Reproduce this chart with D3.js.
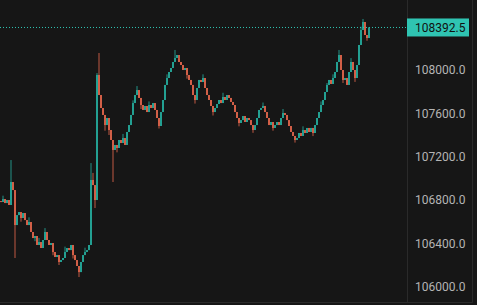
<!DOCTYPE html>
<html>
<head>
  <title>BTC candles</title>
  <style>
    body { margin: 0; background: #161616; }
    #chart { width: 477px; height: 305px; }
    text { font-family: Roboto, "Noto Sans", sans-serif; }
  </style>
  <script src="https://d3js.org/d3.v7.min.js"></script>
</head>
<body>
  <div id="chart"></div>
  <script>
    // close of each bar, open = previous close
    const firstOpen = 106790;
    const closes = [
      106781.5, 106809, 106772, 106800, 106754, 106966, 106892, 106569, 106661, 106689,
      106634, 106680, 106615, 106569, 106597, 106505, 106449, 106468, 106385, 106412,
      106357, 106431, 106505, 106431, 106385, 106403, 106320, 106274, 106292, 106228,
      106246, 106265, 106320, 106357, 106338, 106385, 106292, 106246, 106191, 106135,
      106228, 106292, 106320, 106338, 106385, 106985, 106938, 106800, 107954, 107769,
      107649, 107585, 107492, 107557, 107446, 107354, 107262, 107308, 107280, 107354,
      107326, 107372, 107308, 107428, 107492, 107585, 107695, 107769, 107815, 107742,
      107677, 107631, 107668, 107612, 107677, 107649, 107695, 107631, 107557, 107483,
      107612, 107723, 107862, 107926, 107981.5, 108018.5, 108074, 108111, 108138.5, 108074,
      108046, 108000, 108018.5, 107954, 107908, 107862, 107769, 107723, 107834, 107908,
      107889, 107926, 107834, 107769, 107723, 107668, 107612, 107649, 107686, 107723,
      107695, 107751, 107723, 107769, 107742, 107705, 107677, 107612, 107557, 107511,
      107538, 107575, 107520, 107557, 107538, 107492, 107446, 107492, 107557, 107631,
      107649, 107668, 107612, 107557, 107492, 107520, 107465, 107492, 107520, 107492,
      107557, 107603, 107585, 107538, 107483, 107428, 107391, 107354, 107372, 107418.5,
      107391, 107446, 107418.5, 107465, 107428, 107465, 107418.5, 107492, 107557, 107612,
      107677, 107723, 107797, 107862, 107908, 107871, 107926, 107981.5, 108074, 108138.5,
      108000, 107908, 107926, 107862, 107981.5, 108074, 108000, 107926, 108046, 108231,
      108369, 108443, 108323, 108295, 108392.5
    ];
    // bars whose wicks reach past the body: [index, high, low]
    const wicks = [
      [1, 106840, null], [5, 107169, null], [7, null, 106265], [10, null, 106600],
      [14, 106640, null], [17, null, 106420], [19, 106450, null], [22, 106541, null],
      [26, null, 106290], [29, null, 106200], [32, 106370, null], [36, null, 106260],
      [39, null, 106089], [42, 106360, null], [45, 107141, null], [46, 107050, null],
      [47, null, 106726], [48, 107972, null], [49, 108157, null], [52, null, 107440],
      [54, null, 107400], [56, null, 106966], [58, null, 107240], [61, 107410, null],
      [66, 107720, null], [68, 107852, null], [70, null, 107640], [74, 107710, null],
      [79, null, 107460], [83, 107960, null], [87, 108185, null], [89, 108100, null],
      [93, null, 107920], [97, null, 107690], [101, 107960, null], [106, null, 107580],
      [111, 107790, null], [119, null, 107480], [126, null, 107420], [131, 107700, null],
      [136, null, 107440], [141, 107640, null], [147, null, 107330], [151, 107480, null],
      [156, null, 107390], [160, 107710, null], [163, 107880, null], [166, 107960, null],
      [169, 108185, null], [171, null, 107880], [175, 108110, null], [177, null, 107890],
      [180, 108400, null], [181, 108471, null], [183, null, 108270]
    ];
    const priceTicks = [106000, 106400, 106800, 107200, 107600, 108000];
    const lastPrice = 108392.5;

    const upColor = "#26b3a3";
    const downColor = "#ec6a4f";

    const data = closes.map((c, i) => {
      const o = i === 0 ? firstOpen : closes[i - 1];
      return { i, o, c, h: Math.max(o, c), l: Math.min(o, c) };
    });
    wicks.forEach(([i, h, l]) => {
      if (h !== null) data[i].h = h;
      if (l !== null) data[i].l = l;
    });

    const W = 477, H = 305;
    const plotRight = 407, frameRight = 472.5, frameBottom = 302.5;

    const svg = d3.select("#chart").append("svg")
      .attr("width", W).attr("height", H);

    svg.append("rect").attr("width", W).attr("height", H).attr("fill", "#161616");

    const x = d3.scaleLinear().domain([0, 203]).range([1, plotRight]);
    const y = d3.scaleLinear().domain([106000, 108000]).range([286.7, 70]);

    // frame lines
    svg.append("line")
      .attr("x1", plotRight + 0.5).attr("x2", plotRight + 0.5)
      .attr("y1", 0).attr("y2", frameBottom)
      .attr("stroke", "#2a2a2a");
    svg.append("line")
      .attr("x1", frameRight).attr("x2", frameRight)
      .attr("y1", 0).attr("y2", frameBottom)
      .attr("stroke", "#2a2a2a");
    svg.append("line")
      .attr("x1", 0).attr("x2", frameRight)
      .attr("y1", frameBottom).attr("y2", frameBottom)
      .attr("stroke", "#2a2a2a");

    const bars = svg.append("g");
    bars.selectAll("line")
      .data(data)
      .join("line")
      .attr("x1", d => x(d.i)).attr("x2", d => x(d.i))
      .attr("y1", d => y(d.h)).attr("y2", d => y(d.l))
      .attr("stroke", d => d.c >= d.o ? upColor : downColor)
      .attr("stroke-width", 0.8);
    bars.selectAll("rect")
      .data(data)
      .join("rect")
      .attr("x", d => x(d.i) - 0.8)
      .attr("width", 1.6)
      .attr("y", d => y(Math.max(d.o, d.c)))
      .attr("height", d => Math.max(1, Math.abs(y(d.o) - y(d.c))))
      .attr("fill", d => d.c >= d.o ? upColor : downColor);

    // price axis
    const axis = svg.append("g")
      .attr("transform", `translate(${plotRight},0)`)
      .call(d3.axisRight(y).tickValues(priceTicks).tickSize(0).tickPadding(8)
        .tickFormat(d3.format(".1f")));
    axis.select(".domain").remove();
    axis.selectAll("text")
      .attr("fill", "#b4b4b4")
      .attr("font-size", "12px");

    // last price line and label
    svg.append("line")
      .attr("x1", 0).attr("x2", plotRight)
      .attr("y1", y(lastPrice)).attr("y2", y(lastPrice))
      .attr("stroke", "#2fc4b2")
      .attr("stroke-width", 1)
      .attr("stroke-dasharray", "1,2");
    svg.append("rect")
      .attr("x", plotRight)
      .attr("y", y(lastPrice) - 9)
      .attr("width", 62).attr("height", 18)
      .attr("fill", "#2fc4b2");
    svg.append("text")
      .attr("x", plotRight + 8)
      .attr("y", y(lastPrice))
      .attr("dy", "0.35em")
      .attr("font-size", "12px")
      .attr("fill", "#111")
      .text(d3.format(".1f")(lastPrice));
  </script>
</body>
</html>
